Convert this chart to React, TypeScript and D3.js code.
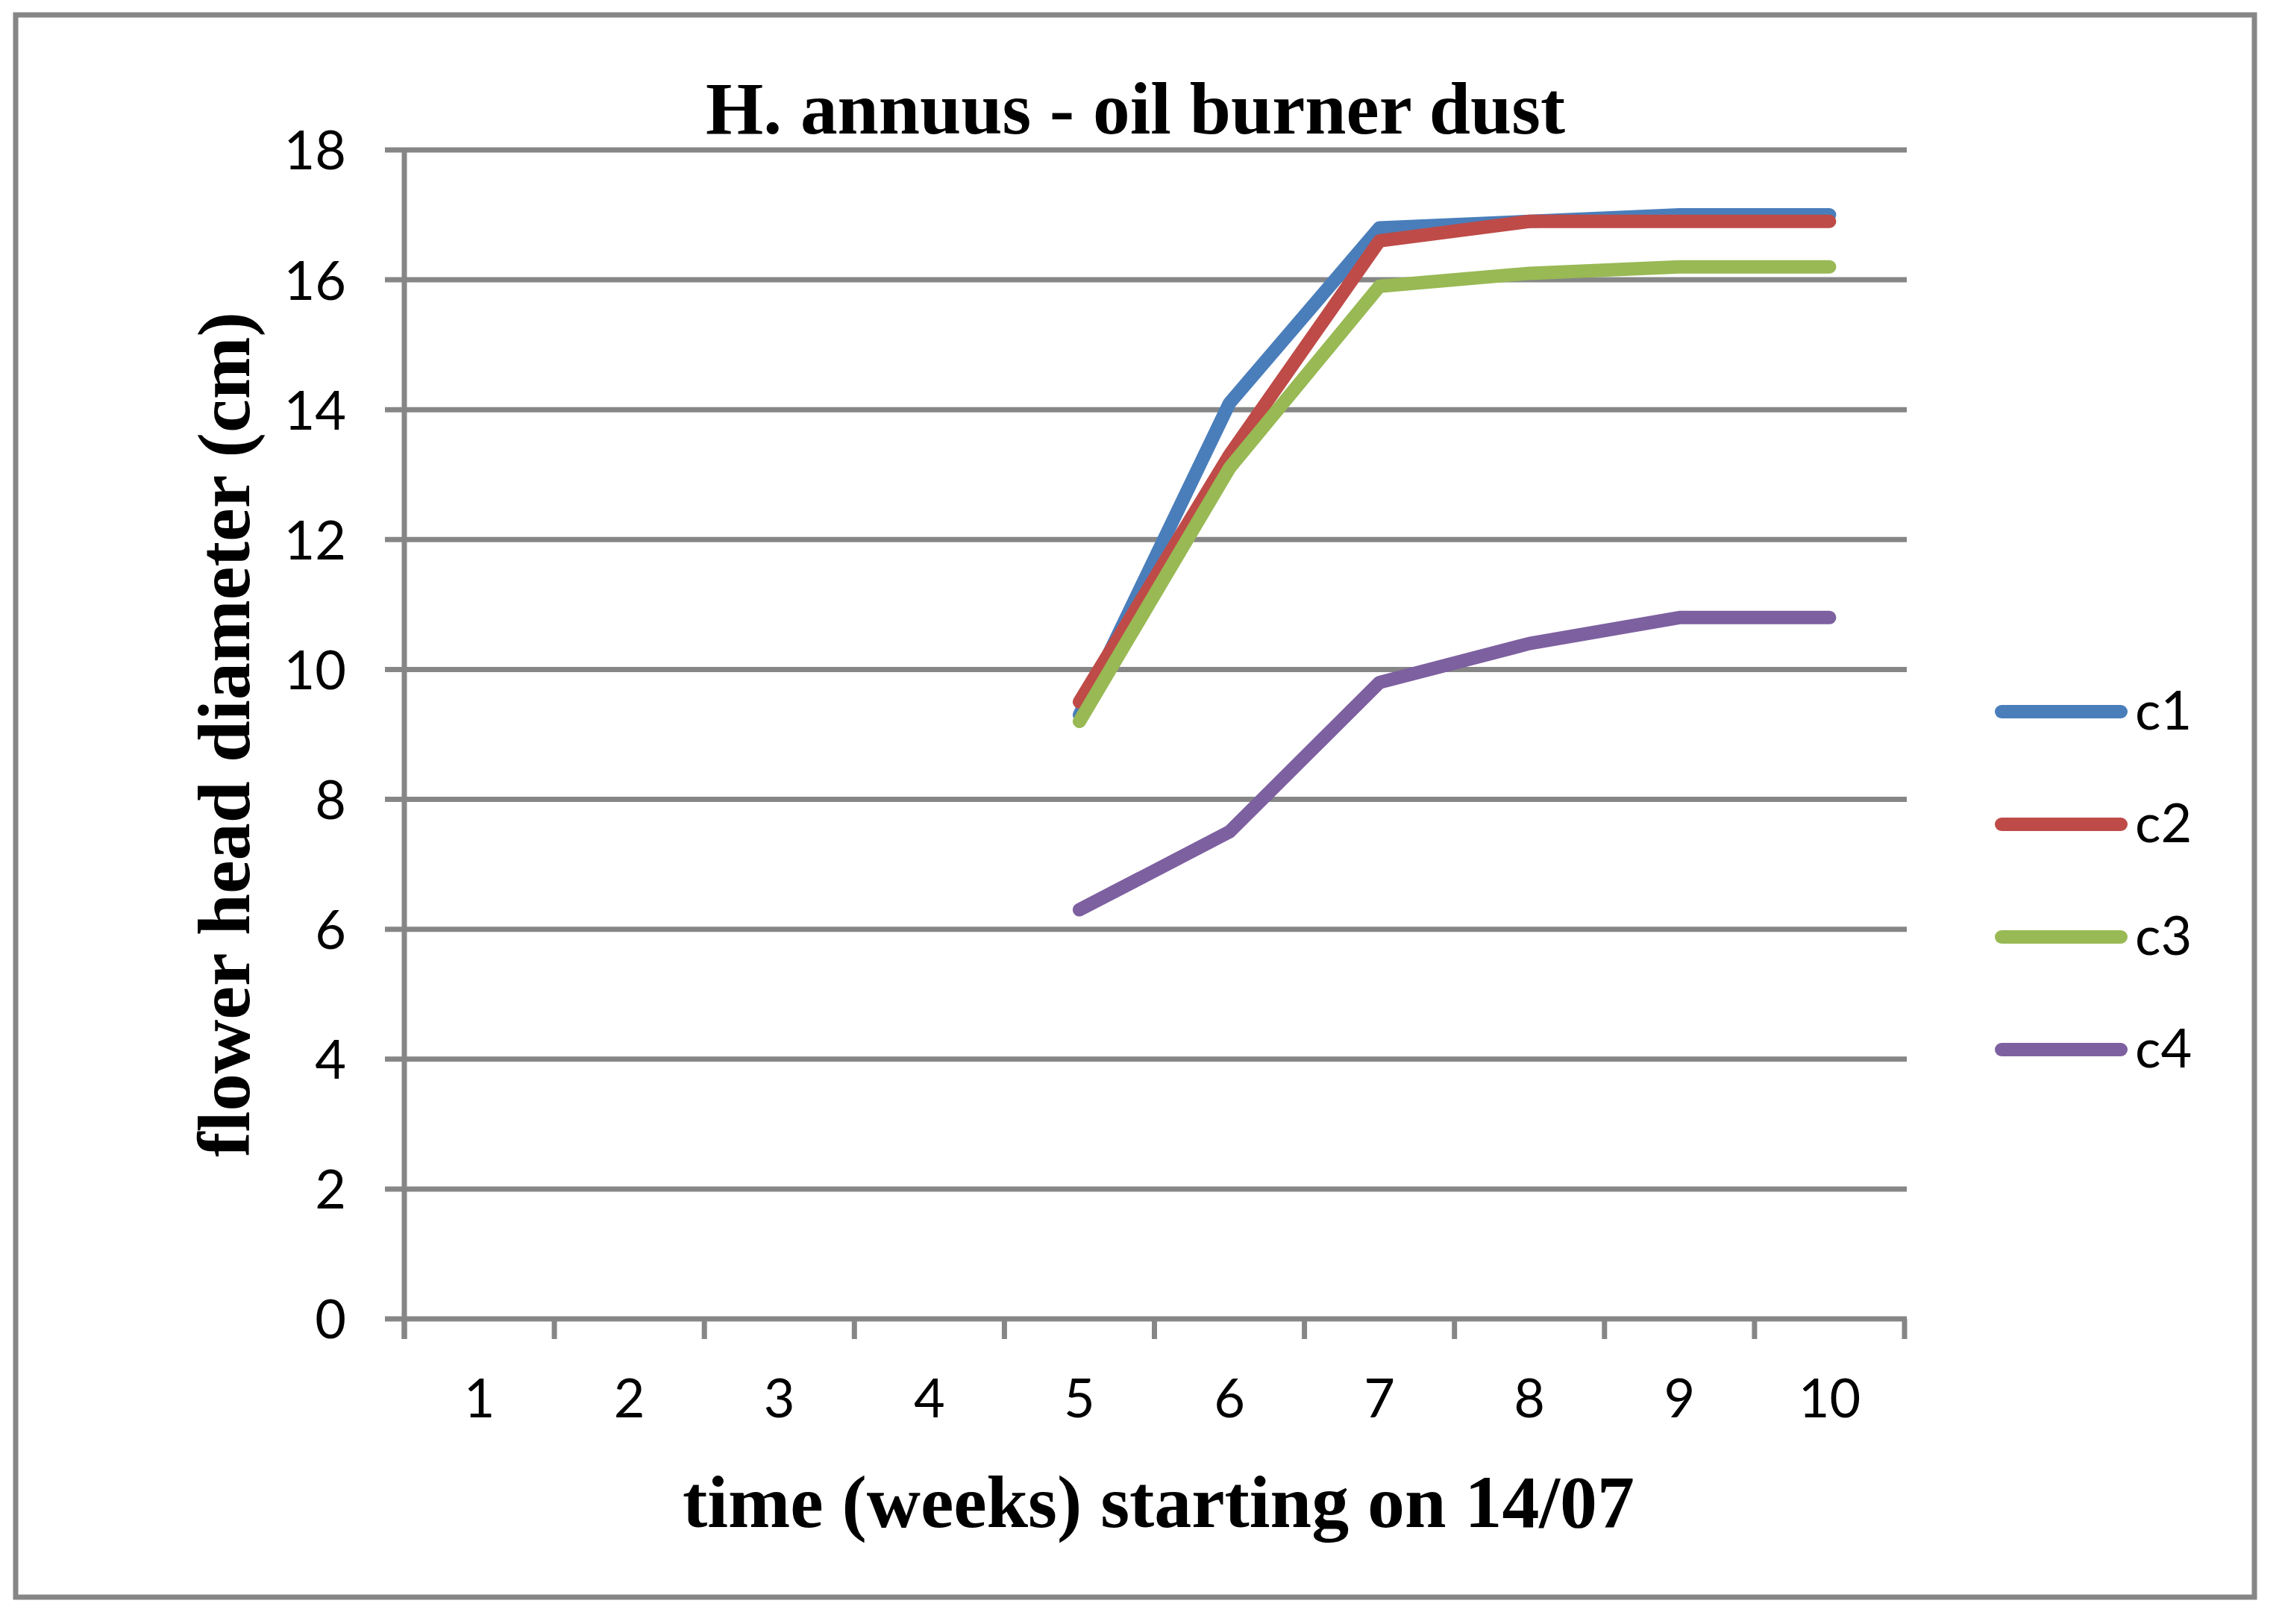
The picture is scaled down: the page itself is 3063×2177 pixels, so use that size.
import { axisLeft, line, scaleBand, scaleLinear, select } from 'd3';
import React, { useEffect, useRef } from 'react';

const weeks = [1, 2, 3, 4, 5, 6, 7, 8, 9, 10];
const measuredWeeks = [5, 6, 7, 8, 9, 10];
const seriesNames = ['c1', 'c2', 'c3', 'c4'];
const seriesColors = ['#4A7EBB', '#BE4B48', '#98B954', '#7D60A0'];
const c1 = [9.3, 14.1, 16.8, 16.9, 17.0, 17.0];
const c2 = [9.5, 13.3, 16.6, 16.9, 16.9, 16.9];
const c3 = [9.2, 13.1, 15.9, 16.1, 16.2, 16.2];
const c4 = [6.3, 7.5, 9.8, 10.4, 10.8, 10.8];
const yTicks = [0, 2, 4, 6, 8, 10, 12, 14, 16, 18];

const W = 3063;
const H = 2177;
const GRAY = '#868686';
const SANS = 'Lato, "Open Sans", sans-serif';
const SERIF = '"Liberation Serif", "Times New Roman", serif';

export default function App() {
  const svgRef = useRef<SVGSVGElement>(null);

  useEffect(() => {
    const svg = select(svgRef.current);
    svg.selectAll('*').remove();

    const left = 542;
    const right = 2553;
    const top = 201;
    const bottom = 1768;

    const x = scaleBand<number>().domain(weeks).range([left, right]).padding(0);
    const y = scaleLinear().domain([0, 18]).range([bottom, top]);

    svg
      .append('rect')
      .attr('x', 0)
      .attr('y', 0)
      .attr('width', W)
      .attr('height', H)
      .attr('fill', '#fff');

    // outer frame
    svg
      .append('rect')
      .attr('x', 21)
      .attr('y', 20)
      .attr('width', 3001)
      .attr('height', 2121)
      .attr('fill', 'none')
      .attr('stroke', GRAY)
      .attr('stroke-width', 7);

    // gridlines (incl. zero line)
    svg
      .append('g')
      .selectAll('line')
      .data(yTicks)
      .join('line')
      .attr('x1', left - 26)
      .attr('x2', right + 3)
      .attr('y1', d => y(d))
      .attr('y2', d => y(d))
      .attr('stroke', GRAY)
      .attr('stroke-width', 7);

    // y axis labels
    const yAxis = axisLeft(y).tickValues(yTicks).tickSize(0).tickPadding(0);
    const gy = svg
      .append('g')
      .attr('transform', `translate(${left - 78},0)`)
      .call(yAxis);
    gy.select('.domain').remove();
    gy.selectAll('text')
      .attr('font-family', SANS)
      .attr('font-size', 72)
      .attr('fill', '#000')
      .attr('dy', '0.36em');

    // y axis line
    svg
      .append('line')
      .attr('x1', left)
      .attr('x2', left)
      .attr('y1', top)
      .attr('y2', bottom + 27)
      .attr('stroke', GRAY)
      .attr('stroke-width', 7);

    // x ticks on band boundaries
    const bounds = weeks.map(w => x(w) ?? 0).concat([right]);
    svg
      .append('g')
      .selectAll('line')
      .data(bounds)
      .join('line')
      .attr('x1', d => d)
      .attr('x2', d => d)
      .attr('y1', bottom)
      .attr('y2', bottom + 27)
      .attr('stroke', GRAY)
      .attr('stroke-width', 7);

    svg
      .append('g')
      .selectAll('text')
      .data(weeks)
      .join('text')
      .attr('x', d => (x(d) ?? 0) + x.bandwidth() / 2)
      .attr('y', 1900)
      .attr('text-anchor', 'middle')
      .attr('font-family', SANS)
      .attr('font-size', 72)
      .text(d => d);

    // series
    const allSeries = [c1, c2, c3, c4];
    const lineGen = line<[number, number]>()
      .x(d => (x(d[0]) ?? 0) + x.bandwidth() / 2)
      .y(d => y(d[1]));

    svg
      .append('g')
      .selectAll('path')
      .data(allSeries)
      .join('path')
      .attr('d', vals => lineGen(vals.map((v, i) => [measuredWeeks[i], v] as [number, number])))
      .attr('fill', 'none')
      .attr('stroke', (_, i) => seriesColors[i])
      .attr('stroke-width', 18)
      .attr('stroke-linecap', 'round')
      .attr('stroke-linejoin', 'round');

    // legend
    const leg = svg
      .append('g')
      .selectAll('g')
      .data(seriesNames)
      .join('g')
      .attr('transform', (_, i) => `translate(0,${954 + i * 151})`);
    leg
      .append('line')
      .attr('x1', 2683)
      .attr('x2', 2843)
      .attr('stroke', (_, i) => seriesColors[i])
      .attr('stroke-width', 18)
      .attr('stroke-linecap', 'round');
    leg
      .append('text')
      .attr('x', 2862)
      .attr('y', 24)
      .attr('font-family', SANS)
      .attr('font-size', 72)
      .text(d => d);

    // titles
    svg
      .append('text')
      .attr('x', 1522)
      .attr('y', 179)
      .attr('text-anchor', 'middle')
      .attr('font-family', SERIF)
      .attr('font-weight', 'bold')
      .attr('font-size', 100)
      .attr('textLength', 1152)
      .attr('lengthAdjust', 'spacingAndGlyphs')
      .text('H. annuus - oil burner dust');

    svg
      .append('text')
      .attr('x', 1553)
      .attr('y', 2047)
      .attr('text-anchor', 'middle')
      .attr('font-family', SERIF)
      .attr('font-weight', 'bold')
      .attr('font-size', 100)
      .attr('textLength', 1276)
      .attr('lengthAdjust', 'spacingAndGlyphs')
      .text('time (weeks) starting on 14/07');

    svg
      .append('text')
      .attr('transform', `translate(334,${(top + bottom) / 2}) rotate(-90)`)
      .attr('text-anchor', 'middle')
      .attr('font-family', SERIF)
      .attr('font-weight', 'bold')
      .attr('font-size', 100)
      .attr('textLength', 1133)
      .attr('lengthAdjust', 'spacingAndGlyphs')
      .text('flower head diameter (cm)');
  }, []);

  return (
    <svg
      ref={svgRef}
      width={W}
      height={H}
      viewBox={`0 0 ${W} ${H}`}
      style={{ position: 'absolute', left: 0, top: 0, display: 'block' }}
    />
  );
}
